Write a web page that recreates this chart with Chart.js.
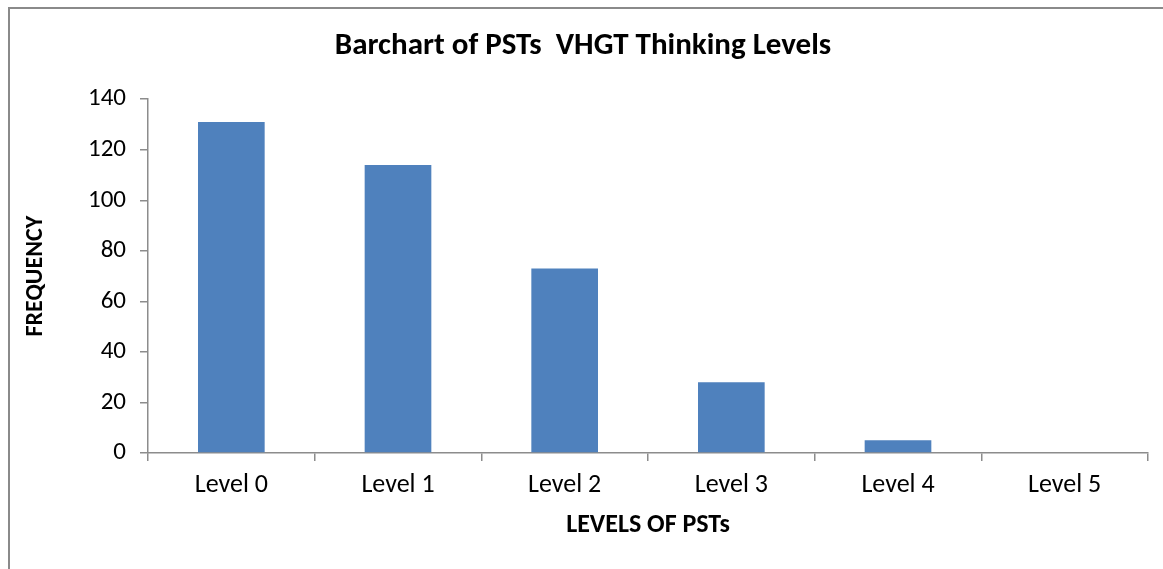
<!DOCTYPE html>
<html>
<head>
<meta charset="utf-8">
<script src="https://cdn.jsdelivr.net/npm/chart.js@4"></script>
<style>
  html, body { margin: 0; padding: 0; background: #fff; }
  body { width: 1163px; height: 569px; position: relative; overflow: hidden; }
  #frame { position: absolute; left: 8px; top: 7px; width: 1200px; height: 600px;
           border-left: 2px solid #8a8a8a; border-top: 2px solid #8a8a8a; }
  #wrap { position: absolute; left: 0; top: 0; width: 1163px; height: 569px; }
</style>
</head>
<body>
<div id="frame"></div>
<div id="wrap"><canvas id="barChart"></canvas></div>
<script>
const levels = ['Level 0', 'Level 1', 'Level 2', 'Level 3', 'Level 4', 'Level 5'];
const frequency = [131, 114, 73, 28, 5, 0];
const yTicks = [0, 20, 40, 60, 80, 100, 120, 140];

const fontFamily = "Carlito, Lato, 'Liberation Sans', sans-serif";
const axisGray = '#8c8c8c';

const ctx = document.getElementById('barChart').getContext('2d');

new Chart(ctx, {
    type: 'bar',
    data: {
        labels: levels,
        datasets: [
            {
                label: 'Frequency',
                data: frequency,
                backgroundColor: '#4F81BD',
                borderWidth: 0,
                barPercentage: 1,
                categoryPercentage: 0.4
            }
        ]
    },
    options: {
        responsive: true,
        maintainAspectRatio: false,
        animation: false,
        layout: {
            padding: { left: 18, right: 15, top: 0, bottom: 28 }
        },
        plugins: {
            legend: { display: false },
            tooltip: { enabled: false },
            title: {
                display: true,
                text: 'Barchart of PSTs  VHGT Thinking Levels',
                color: '#000',
                font: { family: fontFamily, size: 31, weight: 'bold' },
                padding: { top: 28, bottom: 34 }
            }
        },
        scales: {
            x: {
                afterFit: function (scale) { scale.height = 88; },
                grid: {
                    display: true,
                    drawOnChartArea: false,
                    drawTicks: true,
                    tickLength: 8,
                    color: axisGray,
                    lineWidth: 1.5,
                    offset: true
                },
                border: { display: true, color: axisGray, width: 1.5 },
                ticks: {
                    color: '#000',
                    font: { family: fontFamily, size: 26 },
                    padding: 9
                },
                title: {
                    display: true,
                    text: 'LEVELS OF PSTs',
                    color: '#000',
                    font: { family: fontFamily, size: 26, weight: 'bold' },
                    padding: { top: 0, bottom: 0 }
                }
            },
            y: {
                min: 0,
                max: 140,
                afterFit: function (scale) { scale.width = 130; },
                afterBuildTicks: function (scale) {
                    scale.ticks = yTicks.map(v => ({ value: v }));
                },
                grid: {
                    display: true,
                    drawOnChartArea: false,
                    drawTicks: true,
                    tickLength: 8,
                    color: axisGray,
                    lineWidth: 1.5
                },
                border: { display: true, color: axisGray, width: 1.5 },
                ticks: {
                    color: '#000',
                    font: { family: fontFamily, size: 25 },
                    padding: 14
                },
                title: {
                    display: true,
                    text: 'FREQUENCY',
                    color: '#000',
                    font: { family: fontFamily, size: 24, weight: 'bold' },
                    padding: { top: 4, bottom: 4 }
                }
            }
        }
    }
});
</script>
</body>
</html>
